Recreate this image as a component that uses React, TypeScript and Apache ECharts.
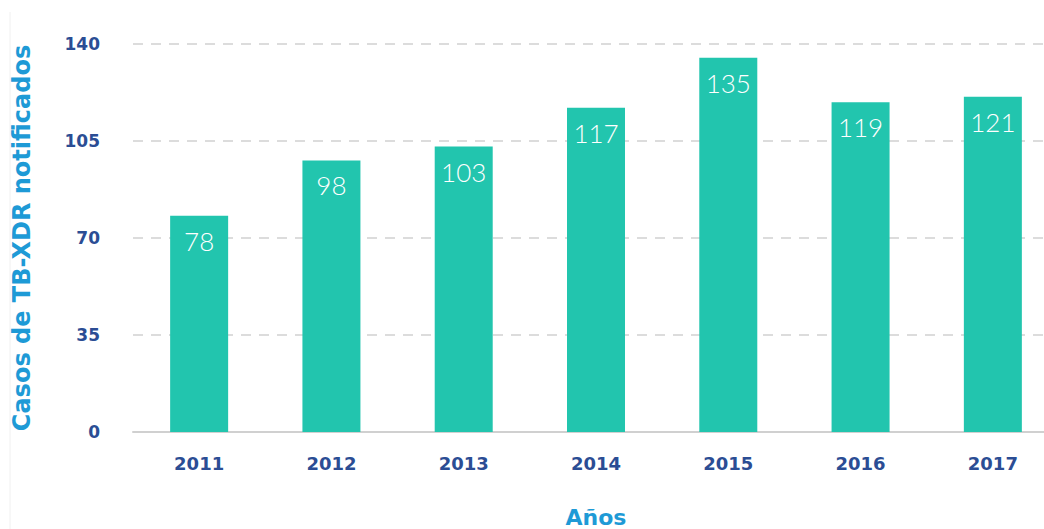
import React, { useEffect, useRef } from "react";
import * as echarts from "echarts";

const years = ["2011", "2012", "2013", "2014", "2015", "2016", "2017"];
const cases = [78, 98, 103, 117, 135, 119, 121];
const yTicks = { min: 0, max: 140, interval: 35 };
const yTitle = "Casos de TB-XDR notificados";
const xTitle = "Años";

const FONT = "'DejaVu Sans', 'Noto Sans', sans-serif";

export default function App() {
  const ref = useRef<HTMLDivElement>(null);
  useEffect(() => {
    if (!ref.current) return;
    const chart = echarts.init(ref.current, null, { renderer: "svg" });
    chart.setOption({
      animation: false,
      backgroundColor: "#ffffff",
      grid: {
        left: 133,
        width: 926,
        top: 44,
        height: 388,
        containLabel: false,
        outerBoundsMode: "none",
      },
      graphic: [
        {
          type: "line",
          shape: { x1: 10, y1: 12, x2: 10, y2: 529 },
          style: { stroke: "#f0f0f0", lineWidth: 1 },
        },
      ],
      xAxis: {
        type: "category",
        data: years,
        name: xTitle,
        nameLocation: "middle",
        nameGap: 74,
        nameTextStyle: {
          color: "#1e9ad6",
          fontSize: 22,
          fontWeight: "bold",
          fontFamily: FONT,
        },
        axisTick: { show: false },
        axisLine: { lineStyle: { color: "#d0d0d0", width: 2 } },
        axisLabel: {
          color: "#2b4d94",
          fontSize: 18,
          fontWeight: "bold",
          margin: 22,
          fontFamily: FONT,
        },
      },
      yAxis: {
        type: "value",
        min: yTicks.min,
        max: yTicks.max,
        interval: yTicks.interval,
        name: yTitle,
        nameLocation: "middle",
        nameGap: 99,
        nameTextStyle: {
          color: "#1e9ad6",
          fontSize: 24,
          fontWeight: "bold",
          fontFamily: FONT,
        },
        axisLine: { show: false },
        axisTick: { show: false },
        axisLabel: {
          color: "#2b4d94",
          fontSize: 17,
          fontWeight: "bold",
          margin: 33,
          fontFamily: FONT,
        },
        splitLine: {
          lineStyle: { color: "#dcdcdc", width: 2, type: [10, 8] },
        },
      },
      series: [
        {
          type: "bar",
          data: cases,
          barWidth: 58,
          itemStyle: { color: "#22c5ae" },
          label: {
            show: true,
            position: "insideTop",
            distance: 12,
            color: "#ffffff",
            fontSize: 26,
            fontWeight: 300,
            fontFamily: "Lato, 'Open Sans', sans-serif",
          },
        },
      ],
    });
    return () => chart.dispose();
  }, []);
  return <div ref={ref} style={{ width: 1044, height: 529, position: "absolute", left: 0, top: 0 }} />;
}
